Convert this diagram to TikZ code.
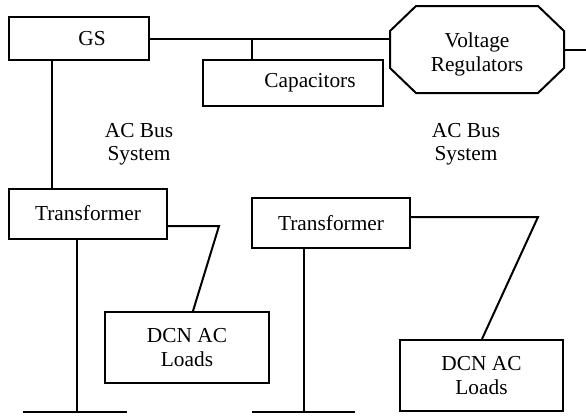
\documentclass[tikz,border=0pt]{standalone}
\usepackage{fontspec}
\setmainfont{Liberation Serif}

\begin{document}
\begin{tikzpicture}[x=0.75pt,y=-0.75pt,line width=1.5pt,
  every node/.style={font=\fontsize{16}{17.5}\selectfont},
  box/.style={draw,rectangle,inner sep=0pt,align=center},
  reg/.style={rectangle,inner sep=0pt,align=center}]
\useasboundingbox (0,0) rectangle (586,415);
% top row
\node[box,minimum width=105pt,minimum height=32.25pt] (gs) at (79,38.5) {\hspace*{19.5pt}GS};
\node[box,minimum width=135pt,minimum height=34.5pt] (cap) at (293,83) {\hspace*{25.5pt}Capacitors};
\node[reg,minimum width=129pt,minimum height=63.75pt] (vr) at (477,49.5) {\rule{0pt}{18.5pt}Voltage\\Regulators};
\draw ([xshift=19.5pt]vr.north west) -- ([xshift=-19.5pt]vr.north east)
  -- ([yshift=-18.75pt]vr.north east) -- ([yshift=18.75pt]vr.south east)
  -- ([xshift=-19.5pt]vr.south east) -- ([xshift=19.5pt]vr.south west)
  -- ([yshift=18.75pt]vr.south west) -- ([yshift=-18.75pt]vr.north west) -- cycle;
\coordinate (capjoin) at (252,40);
\coordinate (vrout) at (586,49.5);
\draw (gs.east) -- (vr.west |- gs.east);
\draw (capjoin) -- (capjoin |- cap.north);
\draw (vr.east) -- (vrout);
% bus labels
\node[align=center] (busa) at (139,144) {AC Bus\\System};
\node[align=center] (busb) at (466,144) {AC Bus\\System};
% transformers and loads
\node[box,minimum width=118.5pt,minimum height=37.5pt] (tfa) at (88,213.5) {Transformer};
\node[box,minimum width=118.5pt,minimum height=37.5pt] (tfb) at (331,223) {Transformer};
\node[box,minimum width=123pt,minimum height=53.25pt] (lda) at (187,347.5) {DCN AC\\Loads};
\node[box,minimum width=122.25pt,minimum height=53.25pt] (ldb) at (481.5,375.5) {DCN AC\\Loads};
\coordinate (gsdrop) at (52,60);
\draw (gsdrop) -- (gsdrop |- tfa.north);
% left feeder
\coordinate (kneea) at (219,226);
\coordinate (taila) at (193,312);
\draw (tfa.east |- kneea) -- (kneea) -- (taila |- lda.north);
\coordinate (barla) at (23,412);
\coordinate (barra) at (127,412);
\coordinate (dropa) at (77,412);
\draw (dropa |- tfa.south) -- (dropa);
\draw (barla) -- (barra);
% right feeder
\coordinate (kneeb) at (538,217);
\coordinate (tailb) at (482,340);
\draw (tfb.east |- kneeb) -- (kneeb) -- (tailb |- ldb.north);
\coordinate (barlb) at (252,412);
\coordinate (barrb) at (355,412);
\coordinate (dropb) at (304,412);
\draw (dropb |- tfb.south) -- (dropb);
\draw (barlb) -- (barrb);
\end{tikzpicture}
\end{document}
